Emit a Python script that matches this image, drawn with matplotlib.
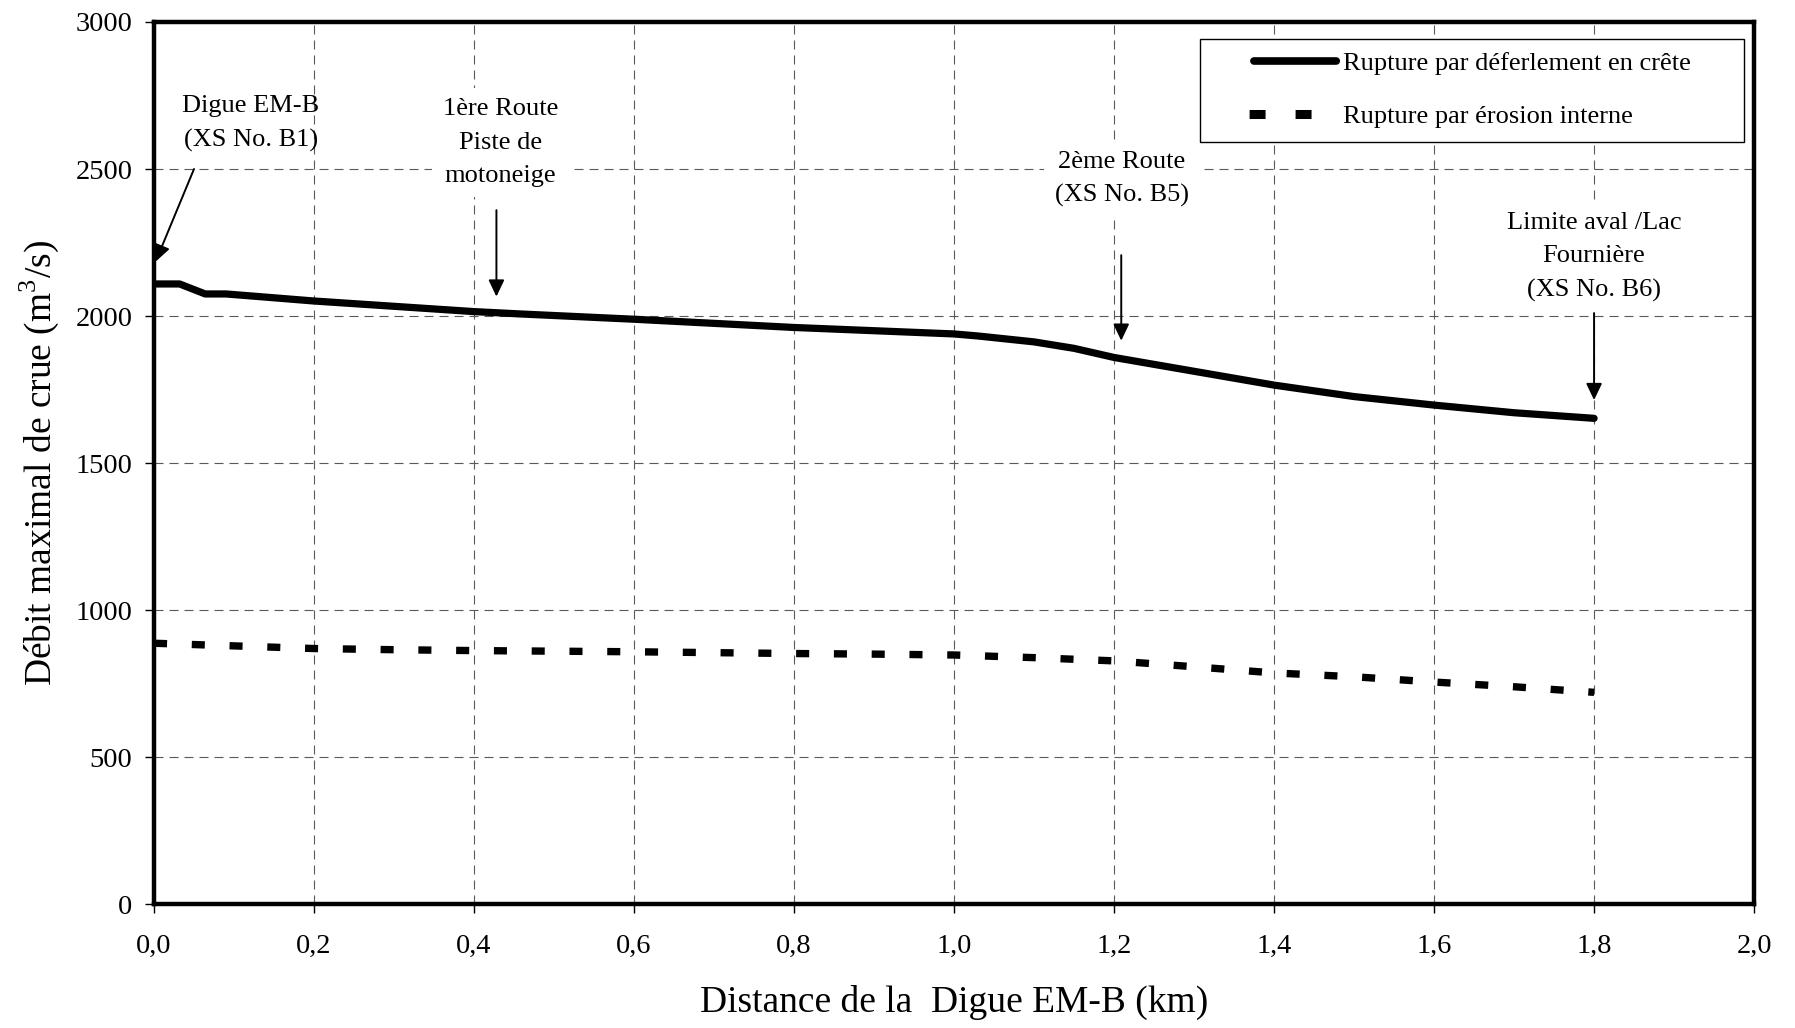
import matplotlib
matplotlib.use('Agg')
import matplotlib.pyplot as plt
from matplotlib.lines import Line2D

plt.rcParams['font.family'] = ['Liberation Serif', 'DejaVu Serif']
plt.rcParams['mathtext.fontset'] = 'custom'
plt.rcParams['mathtext.rm'] = 'Liberation Serif'
plt.rcParams['lines.scale_dashes'] = False

# data
dist_crete = [0.0, 0.032, 0.064, 0.09, 0.136, 0.2, 0.3, 0.4, 0.458, 0.6, 0.7, 0.8,
              0.9, 1.0, 1.03, 1.1, 1.15, 1.2, 1.3, 1.4, 1.5, 1.6, 1.7, 1.8]
q_crete = [2109, 2109, 2075, 2075, 2065, 2051, 2033, 2015, 2007, 1989, 1975, 1961,
           1950, 1939, 1932, 1912, 1890, 1859, 1812, 1765, 1726, 1697, 1671, 1652]

dist_erosion = [0.0, 0.1, 0.2, 0.3, 0.4, 0.5, 0.6, 0.7, 0.8, 0.9, 1.0,
                1.1, 1.2, 1.3, 1.4, 1.5, 1.6, 1.7, 1.8]
q_erosion = [887, 878, 869, 865, 862, 860, 858, 855, 852, 850, 847,
             838, 827, 807, 786, 773, 755, 739, 720]

series_labels = ['Rupture par déferlement en crête', 'Rupture par érosion interne']

x_ticks = [0.0, 0.2, 0.4, 0.6, 0.8, 1.0, 1.2, 1.4, 1.6, 1.8, 2.0]
x_ticklabels = ['0,0', '0,2', '0,4', '0,6', '0,8', '1,0', '1,2', '1,4', '1,6', '1,8', '2,0']
y_ticks = [0, 500, 1000, 1500, 2000, 2500, 3000]

# label text, text centre, arrow start, arrow tip, white box behind
notes = [
    ('Digue EM-B\n(XS No. B1)', (0.121, 2655), (0.05, 2500), (0.002, 2185), False),
    ('1ère Route\nPiste de\nmotoneige', (0.433, 2590), (0.428, 2360), (0.428, 2066), True),
    ('2ème Route\n(XS No. B5)', (1.21, 2466), (1.209, 2207), (1.209, 1916), True),
    ('Limite aval /Lac\nFournière\n(XS No. B6)', (1.80, 2200), (1.80, 2010), (1.80, 1714), True),
]

fig = plt.figure(figsize=(17.95, 10.28), dpi=100)
ax = fig.add_axes([0.0858, 0.1206, 0.8914, 0.858])

ax.plot(dist_crete, q_crete, color='k', lw=5.2, solid_capstyle='round',
        solid_joinstyle='round', zorder=4)
ax.plot(dist_erosion, q_erosion, color='k', lw=5.3, dashes=(9.4, 17.8),
        dash_capstyle='butt', zorder=4)

ax.set_xlim(0, 2.0)
ax.set_ylim(0, 3000)
ax.set_xticks(x_ticks)
ax.set_xticklabels(x_ticklabels)
ax.set_yticks(y_ticks)

ax.set_axisbelow(True)
ax.grid(True, color='#5a5a5a', lw=0.8, linestyle=(0, (6.5, 4.3)))

for sp in ax.spines.values():
    sp.set_linewidth(3.2)
    sp.set_color('k')

ax.tick_params(direction='out', length=6.5, width=1, labelsize=20.5, colors='k')
ax.tick_params(axis='x', pad=15)
ax.tick_params(axis='y', pad=9)

ax.set_xlabel('Distance de la  Digue EM-B (km)', fontsize=27)
ax.set_ylabel('Débit maximal de crue (m$^{3}$/s)', fontsize=27)
ax.xaxis.set_label_coords(0.5, -0.092)
ax.yaxis.set_label_coords(-0.058, 0.5)

for txt, pos, start, tip, boxed in notes:
    bbox = dict(boxstyle='square,pad=0.4', fc='white', ec='none') if boxed else None
    ax.text(pos[0], pos[1], txt, ha='center', va='center', fontsize=19,
            linespacing=1.65, bbox=bbox, zorder=3)
    ax.annotate('', xy=tip, xytext=start,
                arrowprops=dict(arrowstyle='-|>,head_length=0.42,head_width=0.2',
                                color='k', lw=1.4, mutation_scale=24,
                                shrinkA=0, shrinkB=0), zorder=5)

# legend handles drawn with a leading gap, as in the original box
handles = [Line2D([], [], color='k', lw=5.5, dash_capstyle='round',
                  linestyle=(129.85, (59.3, 100))),
           Line2D([], [], color='k', lw=6.5, dash_capstyle='butt',
                  linestyle=(118.6, (11.5, 21.6, 11.5, 100)))]
leg = ax.legend(handles, series_labels, loc='upper left', mode='expand',
                bbox_to_anchor=(0.6536, 0.0, 0.3401, 0.981), borderaxespad=0,
                fontsize=19, handlelength=4.83, handletextpad=0.1, labelspacing=1.12,
                borderpad=0.5, fancybox=False, framealpha=1, edgecolor='k')
leg.get_frame().set_linewidth(1.0)

fig.savefig('out.png', dpi=100, facecolor='white')
